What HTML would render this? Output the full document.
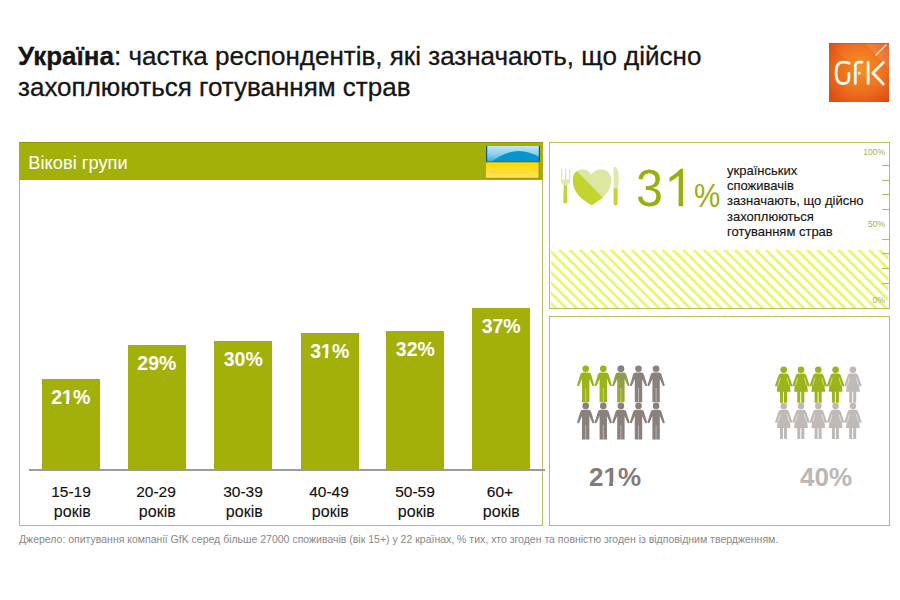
<!DOCTYPE html>
<html><head><meta charset="utf-8">
<style>
*{margin:0;padding:0;box-sizing:border-box}
html,body{width:900px;height:600px;background:#fff;overflow:hidden;font-family:"Liberation Sans",sans-serif;position:relative}
.abs{position:absolute}
.title{left:18px;top:41px;font-size:26px;line-height:31.4px;color:#151515;white-space:nowrap;-webkit-text-stroke:0.3px #151515}
.title b{font-weight:bold}
#logo{left:829px;top:43px;width:60px;height:59px}
#lp{left:18.5px;top:142px;width:524.6px;height:384px;border:1.7px solid #b4bc5c;border-top:none}
#lph{left:19px;top:142px;width:524px;height:38px;background:#a3b00a;border-top:1px solid #8e9900}
#lph span{position:absolute;left:9.3px;top:8.7px;font-size:18.3px;color:#fff;line-height:22px}
#flag{left:486px;top:146px;width:54px;height:33px}
.bar{position:absolute;width:58.3px;background:#a3b00a}
.bar>span{position:absolute;left:0;width:100%;text-align:center;top:7px;color:#fff;font-weight:bold;font-size:19.5px}
#axis{left:28.8px;top:469.4px;width:516px;height:1.3px;background:#9a9aa0}
.lab{position:absolute;width:86px;text-align:center;top:482.1px;font-size:15.5px;line-height:20px;color:#111;-webkit-text-stroke:0.15px #111}
.lab2{position:absolute;width:86px;text-align:center;top:502.3px;font-size:16px;line-height:20px;color:#111;-webkit-text-stroke:0.1px #111;margin-left:1.3px}
#foot{left:19px;top:532.5px;font-size:10.5px;color:#888;white-space:nowrap}
#rp1{left:549.2px;top:142.3px;width:340.6px;height:167.2px;border:1.7px solid #b4bc5c}
#rp2{left:549.2px;top:316.3px;width:340.6px;height:210px;border:1.7px solid #b4bc5c}
#hatch{left:550.5px;top:250.2px;width:337.8px;height:58px}
#big{left:635.8px;top:161.8px;font-size:52px;line-height:52px;color:#9aae10;transform:scaleX(0.93);transform-origin:0 0}
#pct{left:694px;top:177.5px;font-size:34px;line-height:34px;color:#9aae10;transform:scaleX(0.87);transform-origin:0 0}
#desc{left:727px;top:162.8px;font-size:13px;line-height:15.3px;color:#151515;white-space:nowrap;-webkit-text-stroke:0.15px #151515}
.sc{position:absolute;font-size:8.5px;color:#a9ae52;line-height:9px;right:15px;text-align:right}
.tk{position:absolute;left:881.5px;width:7px;height:1.3px;background:#b3ba66}
#p21{left:589px;top:462.3px;font-size:26px;font-weight:bold;color:#857b78}
#p40{left:800px;top:462.3px;font-size:26px;font-weight:bold;color:#bdb6b3}
.one{position:relative}
.one::before,.one::after{content:"";position:absolute;bottom:calc(0.228em - 1px);height:calc(0.102em + 2.6px);background:var(--bg)}
.one::before{left:calc(0.063em - 0.8px);width:calc(0.17em + 0.4px)}
.one::after{left:calc(0.371em + 0.2px);width:calc(0.158em + 0.8px)}
</style></head><body>
<div class="abs title"><b>Україна</b>: частка респондентів, які зазначають, що дійсно<br>захоплюються готуванням страв</div>
<svg id="logo" class="abs" viewBox="0 0 60 59"><defs><radialGradient id="lg" cx="0.5" cy="0.45" r="0.72"><stop offset="0" stop-color="#f59625"/><stop offset="0.55" stop-color="#ee7321"/><stop offset="1" stop-color="#dc4a18"/></radialGradient>
<linearGradient id="lh" x1="0" y1="0" x2="1" y2="1"><stop offset="0" stop-color="#fff" stop-opacity="0"/><stop offset="1" stop-color="#fff" stop-opacity="0.18"/></linearGradient></defs>
<rect width="60" height="59" fill="url(#lg)"/>
<path d="M0,0 L30,29.5 L0,59 Z" fill="#c83000" fill-opacity="0.13"/>
<path d="M0,59 L30,29.5 L60,59 Z" fill="#c83000" fill-opacity="0.06"/>
<path d="M36,0 L60,0 L60,26 Z" fill="#fff" fill-opacity="0.12"/>
<rect width="60" height="0.8" fill="#c84010" fill-opacity="0.5"/>
<g fill="none" stroke="#fff8e8" stroke-width="2.8" stroke-linecap="round" stroke-linejoin="round">
<path d="M20,20.2 Q17.5,19.2 14,19.2 Q7.1,19.2 7.1,30 Q7.1,40.6 14,40.6 Q19.9,40.6 19.9,35 V30.5"/>
<path d="M26.3,40.6 V23.5 Q26.3,19.2 30,19.2 H33"/>
<path d="M39.1,19.3 V40.6 M54.3,19.4 L43.9,30 L54.3,41"/>
</g>
<circle cx="30.2" cy="30" r="1.5" fill="#fff8e8"/>
<path d="M46.5,12.5 L57.5,1.5" stroke="#fbdcb0" stroke-width="1.2"/>
</svg>
<div id="lp" class="abs"></div>
<div id="lph" class="abs"><span>Вікові групи</span></div>
<svg id="flag" class="abs" viewBox="0 0 54 33"><defs>
<linearGradient id="fb" x1="0" y1="0" x2="0" y2="1"><stop offset="0" stop-color="#bfe6f5"/><stop offset="0.5" stop-color="#8fd0ec"/><stop offset="1" stop-color="#3aaad8"/></linearGradient>
<linearGradient id="fy" x1="0" y1="0" x2="0" y2="1"><stop offset="0" stop-color="#ffd600"/><stop offset="0.6" stop-color="#fedf3a"/><stop offset="1" stop-color="#fce66a"/></linearGradient></defs>
<rect x="0" y="0" width="54" height="16" fill="url(#fb)"/>
<path d="M5.3,16 Q30,-3.5 54,11.5 V16 Z" fill="#0796cc"/>
<rect x="0" y="16" width="54" height="17" fill="url(#fy)"/>
<rect x="0" y="0" width="1.2" height="16" fill="#0a5a8a"/><rect x="52.8" y="0" width="1.2" height="16" fill="#0a5a8a"/>
<rect x="0" y="15.3" width="54" height="1" fill="#2a7a6a"/>
<rect x="52.5" y="16" width="1.5" height="17" fill="#b89000"/><rect x="0" y="31.8" width="54" height="1.2" fill="#b89000"/>
</svg>
<div id="axis" class="abs"></div>
<div class="bar" style="left:41.6px;top:378.8px;height:90.7px"><span>2<span class="one" style="--bg:#a3b00a">1</span>%</span></div>
<div class="bar" style="left:127.7px;top:345px;height:124.5px"><span>29%</span></div>
<div class="bar" style="left:214.1px;top:341.2px;height:128.3px"><span>30%</span></div>
<div class="bar" style="left:300.6px;top:333.2px;height:136.3px"><span>3<span class="one" style="--bg:#a3b00a">1</span>%</span></div>
<div class="bar" style="left:386.2px;top:331px;height:138.5px"><span>32%</span></div>
<div class="bar" style="left:472px;top:308px;height:161.5px"><span>37%</span></div>
<div class="lab" style="left:28px">15-19</div><div class="lab2" style="left:28px">років</div>
<div class="lab" style="left:113px">20-29</div><div class="lab2" style="left:113px">років</div>
<div class="lab" style="left:200px">30-39</div><div class="lab2" style="left:200px">років</div>
<div class="lab" style="left:286px">40-49</div><div class="lab2" style="left:286px">років</div>
<div class="lab" style="left:372px">50-59</div><div class="lab2" style="left:372px">років</div>
<div class="lab" style="left:457px">60+</div><div class="lab2" style="left:457px">років</div>
<div id="foot" class="abs">Джерело: опитування компанії GfK серед більше 27000 споживачів (вік 15+) у 22 країнах, % тих, хто згоден та повністю згоден із відповідним твердженням.</div>
<div id="rp1" class="abs"></div>
<svg id="hatch" class="abs" width="337.8" height="58"><defs><pattern id="hp" width="7.3" height="20" patternUnits="userSpaceOnUse" patternTransform="translate(-3.6,0) rotate(-45)"><rect width="2.7" height="20" fill="#ebf66c"/></pattern></defs><rect width="337.8" height="58" fill="url(#hp)"/></svg>
<div class="sc" style="top:148px">100%</div>
<div class="sc" style="top:220px">50%</div>
<div class="sc" style="top:296px">0%</div>
<div class="tk" style="top:165px"></div><div class="tk" style="top:180px"></div><div class="tk" style="top:194px"></div><div class="tk" style="top:209px"></div><div class="tk" style="top:239px"></div><div class="tk" style="top:253px"></div><div class="tk" style="top:268px"></div><div class="tk" style="top:283px"></div>
<svg class="abs" style="left:556px;top:162px" width="68" height="48" viewBox="0 0 68 48">
<path d="M4.9,6.8 H6.2 V17.6 H9 V6.8 H10.3 V17.6 H13 V6.8 H14.3 V18.4 Q14.3,21.3 11,23.8 H7.9 Q4.9,21.3 4.9,18.4 Z" fill="#e0e8ab"/>
<path d="M7.7,23.3 H11 L11.3,40.5 Q9.4,42.6 7.3,40.5 Z" fill="#c3d334"/>
<defs><clipPath id="hc"><polygon points="6.4,-5.9 60.2,49.4 0,60 -5,-5.9"/></clipPath><path id="hrt" d="M35.3,12.8 C32,5 16.8,5 16.8,18 C16.8,30 25,37 35.6,43.2 C46.2,37 55.2,30 55.2,18 C55.2,5 39,5 35.3,12.8 Z"/></defs>
<use href="#hrt" fill="#dde7a2"/><use href="#hrt" fill="#c4d42f" clip-path="url(#hc)"/>
<path d="M57.6,27 V7 Q57.6,4.8 59.3,4.8 Q62.8,7.5 62.8,16 Q62.8,22 61.6,27 Z" fill="#e0e8ab"/>
<path d="M57.6,26.5 H61.6 V42 Q59.6,45.5 57.6,42 Z" fill="#c3d334"/>
</svg>
<div id="big" class="abs">3</div><svg class="abs" style="left:0;top:0" width="900" height="300"><path d="M678.6,206.2 V175.8 Q674.5,179.8 669.5,182 V177.5 Q673,175.8 676.3,172.8 Q679.3,170 680.5,168.8 H683.1 V206.2 Z" fill="#9aae10"/></svg>
<div id="pct" class="abs">%</div>
<div id="desc" class="abs">українських<br>споживачів<br>зазначають, що дійсно<br>захоплюються<br>готуванням страв</div>
<div id="rp2" class="abs"></div>
<svg class="abs" style="left:0;top:0" width="900" height="600" viewBox="0 0 900 600">
<defs>
<g id="man"><circle cx="9" cy="3.3" r="3.3"/><path d="M5.3,36.9 V13.5 L2.3,20.3 Q1.2,20.9 0.3,20 L3.6,9.2 Q4.3,7.2 6.3,7.2 H11.7 Q13.7,7.2 14.4,9.2 L17.7,20 Q16.8,20.9 15.7,20.3 L12.7,13.5 V36.9 Z"/></g>
<g id="wom"><circle cx="9" cy="3.3" r="3.3"/><path d="M6.3,7 H11.7 Q13.5,7 14.2,9 L17.7,19.2 Q17.2,20.4 16,19.9 L15.1,18.5 L15.9,25.3 H12.3 V36.3 H9.3 V25.3 H8.3 V36.3 H5.3 V25.3 H2.1 L2.9,18.5 L2,19.9 Q0.8,20.4 0.3,19.2 L3.8,9 Q4.5,7 6.3,7 Z"/><path d="M5.6,11.4 L3.6,18.6 M12.4,11.4 L14.4,18.6" stroke="#fff" stroke-width="0.7" stroke-opacity="0.75"/></g>
<linearGradient id="mix" x1="0" y1="0" x2="0" y2="1"><stop offset="0" stop-color="#8f9a58"/><stop offset="0.5" stop-color="#95a040"/><stop offset="1" stop-color="#9cae20"/></linearGradient>
</defs>
<g fill="#9cb31b"><use href="#man" x="576.7" y="365.4"/><use href="#man" x="594.3" y="365.4"/></g>
<use href="#man" x="611.9" y="365.4" fill="url(#mix)"/>
<circle cx="620.9" cy="368.7" r="3.3" fill="#8a817d"/>
<g fill="#8a817d"><use href="#man" x="629.5" y="365.4"/><use href="#man" x="647.1" y="365.4"/>
<use href="#man" x="576.7" y="402.6"/><use href="#man" x="594.3" y="402.6"/><use href="#man" x="611.9" y="402.6"/><use href="#man" x="629.5" y="402.6"/><use href="#man" x="647.1" y="402.6"/></g>
<g stroke="#fff" stroke-width="0.7" opacity="0.6"><path d="M585.7,388 V402.3 M603.3,388 V402.3 M620.9,388 V402.3 M638.5,388 V402.3 M656.1,388 V402.3 M585.7,425.2 V439.5 M603.3,425.2 V439.5 M620.9,425.2 V439.5 M638.5,425.2 V439.5 M656.1,425.2 V439.5"/></g>
<g fill="#9cb31b"><use href="#wom" x="774.7" y="366.4"/><use href="#wom" x="792" y="366.4"/><use href="#wom" x="809.3" y="366.4"/><use href="#wom" x="826.6" y="366.4"/></g>
<g fill="#c0bab6"><use href="#wom" x="843.9" y="366.4"/>
<use href="#wom" x="774.7" y="402.8"/><use href="#wom" x="792" y="402.8"/><use href="#wom" x="809.3" y="402.8"/><use href="#wom" x="826.6" y="402.8"/><use href="#wom" x="843.9" y="402.8"/></g>
</svg>
<div id="p21" class="abs">2<span class="one" style="--bg:#fff">1</span>%</div>
<div id="p40" class="abs">40%</div>
</body></html>
